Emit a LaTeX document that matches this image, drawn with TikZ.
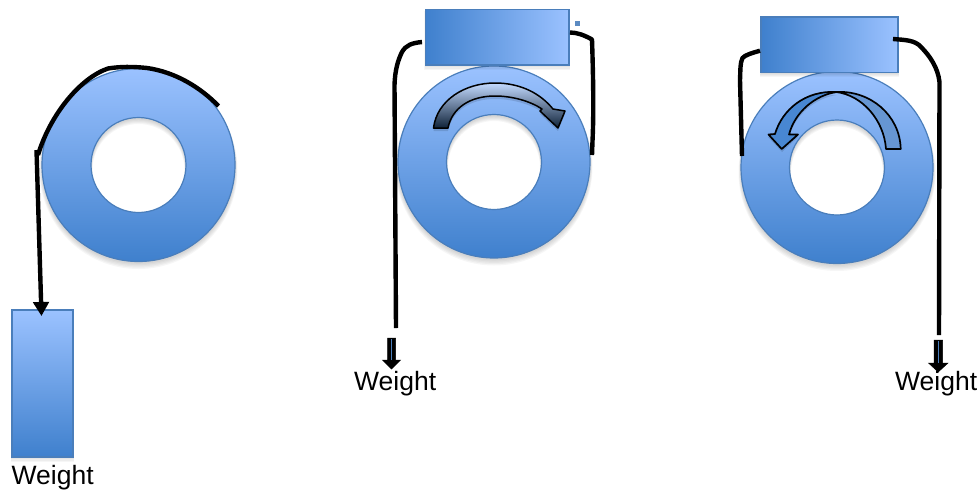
\documentclass[tikz,border=0pt]{standalone}
\usepackage{fontspec}
\setmainfont{Liberation Sans}
\usetikzlibrary{arrows.meta,calc}
\definecolor{lite}{HTML}{9BC2FF}
\definecolor{deep}{HTML}{3F80CD}
\definecolor{edge}{HTML}{4A7EBB}
\definecolor{navy}{HTML}{0F2238}
\tikzset{
  wire/.style={draw=black,line width=4.4pt,line cap=butt,line join=round},
  label/.style={font=\fontsize{26.5}{28}\selectfont,inner sep=0pt,anchor=base west,text=black},
  hbox/.style={draw=edge,line width=1.2pt,left color=deep,right color=lite,inner sep=0pt,minimum width=#1},
  vbox/.style={draw=edge,line width=1.2pt,top color=lite,bottom color=deep,inner sep=0pt,minimum width=61pt,minimum height=147pt},
  softshadow/.style={fill=black,fill opacity=.035,draw=none},
  ringfill/.style={top color=lite,bottom color=deep,even odd rule},
  ringline/.style={draw=edge,line width=1.2pt},
  blockdown/.style={fill=black,draw=black,line width=.5pt}
}
\newcommand{\Ring}[5]{%
  \foreach \d in {1,2,3,4,5}{
    \path[softshadow,even odd rule] (#1,#2+1+\d*.8) circle[radius=#3+\d*.5] (#1,#2+1+\d*.8) circle[radius=#4-\d*.3];
  }
  \shade[ringfill] (#1,#2) circle[radius=#3] (#1,#2) circle[radius=#4];
  \path[ringline] (#1,#2) circle[radius=#3] (#1,#2) circle[radius=#4];
  \coordinate (#5) at (#1,#2);
}
\newcommand{\BoxShadow}[4]{%
  \foreach \d in {1,2,3,4}{
    \path[softshadow] (#1-\d*.3,#2+1) rectangle (#3+\d*.3,#4+\d*1.2);
  }
}
\begin{document}
\begin{tikzpicture}[x=1pt,y=-1pt]
\useasboundingbox (0,0) rectangle (980,491);
% rings
\Ring{138.5}{165}{96.5}{47.5}{ringA}
\Ring{494}{162}{96}{47.5}{ringB}
\Ring{837}{167.5}{96}{47.5}{ringC}
% boxes
\BoxShadow{12}{310}{73}{457}
\BoxShadow{425.5}{9.5}{569}{65}
\BoxShadow{761}{17}{898}{72.5}
\node[vbox] (weightbox) at (42.5,383.5) {};
\node[hbox=143.5pt,minimum height=55.5pt] (boxB) at (497.25,37.25) {};
\node[hbox=137pt,minimum height=55.5pt] (boxC) at (829.5,44.75) {};
\node[fill=edge!90,inner sep=0pt,minimum size=5pt] (dot) at (577,23) {};
% first wire
\coordinate (a0) at (218.5,106);
\coordinate (a1) at (108,68.5);
\coordinate (a2) at (36.5,150);
\coordinate (a3) at (41.5,316);
\draw[wire] (a0) .. controls (200,87) and (175,72) .. (147,68)
  .. controls (133,66.5) and (120,66.5) .. (a1)
  .. controls (80,78) and (50,115) .. (38,155);
\draw[wire,-{Triangle[length=14pt,width=15.5pt]}] (a2) -- (a3);
% second wires
\coordinate (b0) at (422,42);
\coordinate (b1) at (396,328);
\draw[wire] (b0) .. controls (412,43) and (406,45) .. (402,52)
  .. controls (398,60) and (395,70) .. (394.5,85) -- (b1);
\coordinate (b2) at (570,32.5);
\coordinate (b3) at (592,155);
\draw[wire] (b2) .. controls (577,32.5) and (584,35) .. (592,39.5)
  .. controls (593,70) and (594,110) .. (592.5,141) -- (b3);
% third wires
\coordinate (c0) at (760,50.7);
\coordinate (c1) at (742,156);
\draw[wire] (c0) .. controls (752,53) and (745,55) .. (742.5,58)
  .. controls (740,63) and (740.5,70) .. (740,80) -- (c1);
\coordinate (c2) at (893,39);
\coordinate (c3) at (939,335);
\draw[wire] (c2) .. controls (905,40) and (915,40) .. (921,47)
  .. controls (930,56) and (938,68) .. (939.5,82) -- (c3);
% curved arrow, middle
\path[fill=black,fill opacity=.12,shift={(0,3)}]
  (433.5,128) .. controls (437,100) and (465,83) .. (495,83)
  .. controls (520,83) and (540,93) .. (553,109)
  -- (565,111) -- (558,128) -- (540,111) -- (542,109)
  .. controls (530,101) and (512,96) .. (495,96)
  .. controls (470,96) and (452,108) .. (448,128) -- cycle;
\shadedraw[top color=lite!60!white,bottom color=navy,draw=black,line width=1.5pt,line join=round]
  (433.5,128) .. controls (437,100) and (465,83) .. (495,83)
  .. controls (520,83) and (540,93) .. (553,109)
  -- (565,111) -- (558,128) -- (540,111) -- (542,109)
  .. controls (530,101) and (512,96) .. (495,96)
  .. controls (470,96) and (452,108) .. (448,128) -- cycle;
% curved arrow, right
\fill[draw=black,line width=1.7pt,line join=round,fill=edge!65!lite]
  (886,149) .. controls (884,120) and (862,95) .. (836,92)
  .. controls (870,90) and (900,115) .. (900.7,149) -- cycle;
\path[fill=black,fill opacity=.12,shift={(0,3)}]
  (837,92) .. controls (805,92) and (782,110) .. (775,134) -- (768,134) -- (782,149) -- (798,134) -- (789,134)
  .. controls (795,112) and (815,95) .. (837,92) -- cycle;
\fill[draw=black,line width=1.7pt,line join=round,fill=deep!90!lite]
  (837,92) .. controls (805,90) and (782,110) .. (775,134) -- (768.5,134.5) -- (781.7,149) -- (798,134.5) -- (789,134.5)
  .. controls (795,112) and (815,95) .. (837,92) -- cycle;
% downward arrows
\fill[blockdown] (387.5,338) -- (395.5,338) -- (395.5,360) -- (400.5,360) -- (391.5,369) -- (382.5,360) -- (387.5,360) -- cycle;
\draw[edge,line width=.4pt] (391.5,339) -- (391.5,360);
\fill[blockdown] (934,340) -- (942.5,340) -- (942.5,363) -- (948,363) -- (938.2,372) -- (928.5,363) -- (934,363) -- cycle;
\draw[edge,line width=.4pt] (938.2,341) -- (938.2,363);
% labels
\node[label] (wA) at (11.5,484) {Weight};
\node[label] (wB) at (354,390.5) {Weight};
\node[label] (wC) at (895,390.5) {Weight};
\end{tikzpicture}
\end{document}
